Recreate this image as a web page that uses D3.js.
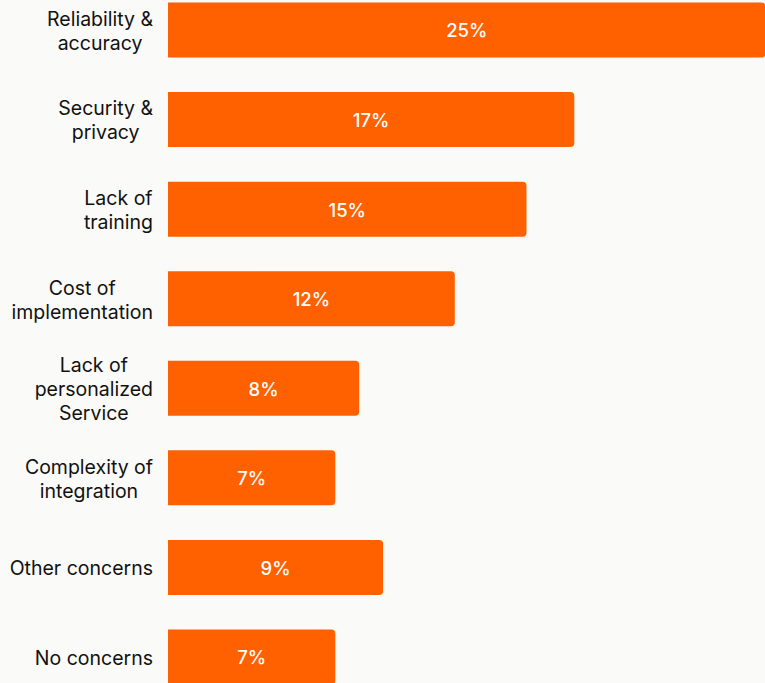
<!DOCTYPE html>
<html>
<head>
<meta charset="utf-8">
<script src="https://cdn.jsdelivr.net/npm/d3@7"></script>
<style>
  html, body { margin: 0; padding: 0; background: #fafaf8; }
  svg { display: block; }
</style>
</head>
<body>
<script>
// Reported concerns, share of respondents (%)
const categories = [
  ["Reliability &", "accuracy"],
  ["Security &", "privacy"],
  ["Lack of", "training"],
  ["Cost of", "implementation"],
  ["Lack of", "personalized", "Service"],
  ["Complexity of", "integration"],
  ["Other concerns"],
  ["No concerns"]
];
const values = [25, 17, 15, 12, 8, 7, 9, 7];
const valueLabels = ["25%", "17%", "15%", "12%", "8%", "7%", "9%", "7%"];

const W = 765, H = 683;
const fontFamily = "Inter, 'Noto Sans', sans-serif";
const barColor = "#ff6000";

const svg = d3.select("body").append("svg")
  .attr("width", W).attr("height", H);

svg.append("rect").attr("width", W).attr("height", H).attr("fill", "#fafaf8");

const keys = categories.map((c, i) => i);

const x = d3.scaleLinear().domain([0, 25]).range([168, 765.5]);
const y = d3.scaleBand().domain(keys).range([2.5, 684.5]).paddingInner(0.386).paddingOuter(0);

const r = 4;
// bar with rounded right corners only
function barPath(d, i) {
  const x0 = x(0), x1 = x(d), y0 = y(i), h = y.bandwidth();
  return `M${x0},${y0}H${x1 - r}Q${x1},${y0} ${x1},${y0 + r}V${y0 + h - r}Q${x1},${y0 + h} ${x1 - r},${y0 + h}H${x0}Z`;
}

svg.append("g").selectAll("path")
  .data(values)
  .join("path")
  .attr("d", barPath)
  .attr("fill", barColor);

svg.append("g").selectAll("text")
  .data(values)
  .join("text")
  .attr("x", d => (x(0) + x(d)) / 2)
  .attr("y", (d, i) => y(i) + y.bandwidth() / 2 + 1)
  .attr("dy", "0.35em")
  .attr("text-anchor", "middle")
  .attr("fill", "#ffffff")
  .attr("font-family", fontFamily)
  .attr("font-size", 18.5)
  .attr("font-weight", 500)
  .text((d, i) => valueLabels[i]);

// category labels: lines centred within a block whose right edge sits left of the bars
const lineH = 24;
const labelRight = 153;
const labelG = svg.append("g");
categories.forEach((lines, i) => {
  const cy = y(i) + y.bandwidth() / 2 + 1;
  const t = labelG.append("text")
    .attr("font-family", fontFamily)
    .attr("font-size", 19.5)
    .attr("fill", "#111111")
    .attr("text-anchor", "middle");
  const spans = lines.map((ln, j) => t.append("tspan")
    .attr("y", cy + (j - (lines.length - 1) / 2) * lineH)
    .attr("dy", "0.35em")
    .text(ln));
  const maxW = d3.max(spans, s => s.node().getComputedTextLength());
  spans.forEach(s => s.attr("x", labelRight - maxW / 2));
});
</script>
</body>
</html>
